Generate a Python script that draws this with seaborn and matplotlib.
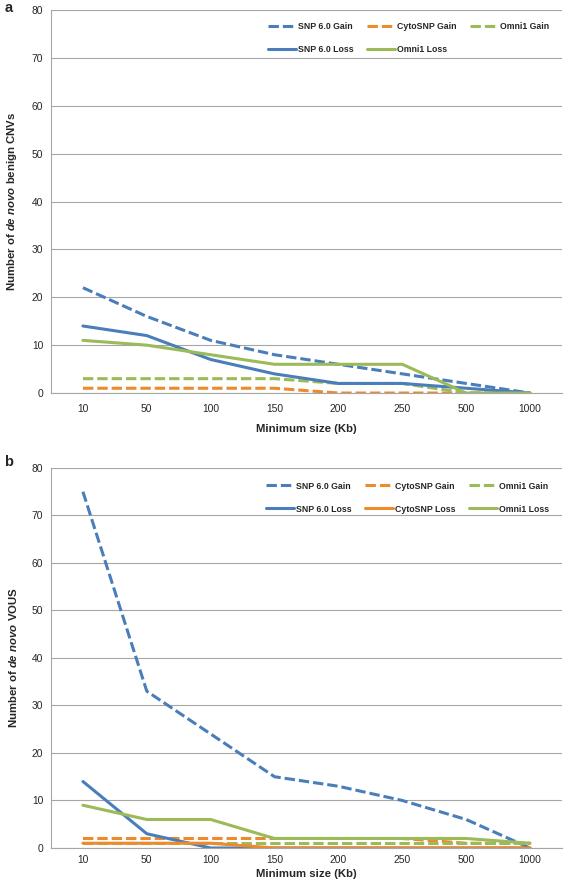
import matplotlib
matplotlib.use("Agg")
import matplotlib.pyplot as plt
import seaborn as sns
import pandas as pd
import numpy as np
from matplotlib.ticker import FixedLocator

sizes = ["10", "50", "100", "150", "200", "250", "500", "1000"]

# panel a: de novo benign CNVs
a_snp6_gain = [22, 16, 11, 8, 6, 4, 2, 0]
a_cyto_gain = [1, 1, 1, 1, 0, 0, 0, 0]
a_omni_gain = [3, 3, 3, 3, 2, 2, 0, 0]
a_snp6_loss = [14, 12, 7, 4, 2, 2, 1, 0]
a_omni_loss = [11, 10, 8, 6, 6, 6, 0, 0]

# panel b: de novo VOUS
b_snp6_gain = [75, 33, 24, 15, 13, 10, 6, 0]
b_cyto_gain = [2, 2, 2, 2, 2, 2, 1, 1]
b_omni_gain = [1, 1, 1, 1, 1, 1, 1, 1]
b_snp6_loss = [14, 3, 0, 0, 0, 0, 0, 0]
b_cyto_loss = [1, 1, 1, 0, 0, 0, 0, 0]
b_omni_loss = [9, 6, 6, 2, 2, 2, 2, 1]

BLUE = "#4A7EBB"
ORANGE = "#EE8A2C"
GREEN = "#9BBB59"
GRID = "#A6A6A6"
DASH = (0, (3.4, 1.3))

sns.set_theme(style="white")
plt.rcParams["font.family"] = ["Liberation Sans", "DejaVu Sans"]
plt.rcParams["mathtext.fontset"] = "custom"
plt.rcParams["mathtext.it"] = "Liberation Sans:italic:bold"
plt.rcParams["mathtext.rm"] = "Liberation Sans:bold"

fig = plt.figure(figsize=(5.66, 8.86), dpi=100)
ax_a = fig.add_axes([0.0901, 0.5564, 0.9028, 0.4323])
ax_b = fig.add_axes([0.0901, 0.0429, 0.9028, 0.4289])


def draw(ax, series):
    for label, vals, color, ls in series:
        df = pd.DataFrame({"size": sizes, "n": vals})
        sns.lineplot(data=df, x="size", y="n", ax=ax, color=color,
                     linewidth=2.2, linestyle=ls, label=label, sort=False)


def style(ax, ylabel, order, legend_y, tick_pad, xlab_pad):
    ax.set_ylim(0, 80)
    ax.set_xlim(-0.5, len(sizes) - 0.5)
    ax.set_yticks(np.arange(0, 81, 10))
    ax.yaxis.grid(True, color=GRID, linewidth=0.8)
    ax.set_axisbelow(True)
    for s in ["top", "right"]:
        ax.spines[s].set_visible(False)
    for s in ["left", "bottom"]:
        ax.spines[s].set_color(GRID)
        ax.spines[s].set_linewidth(0.8)
    ax.xaxis.set_minor_locator(FixedLocator(np.arange(-0.5, len(sizes), 1.0)))
    ax.tick_params(axis="x", which="major", length=0, labelsize=7.4, pad=tick_pad)
    ax.tick_params(axis="x", which="minor", length=3.5, color=GRID, width=0.8)
    ax.tick_params(axis="y", length=3.5, color=GRID, width=0.8, labelsize=7.4, pad=2)
    ax.set_xlabel("Minimum size (Kb)", fontsize=8.2, fontweight="bold", labelpad=xlab_pad)
    ax.set_ylabel(ylabel, fontsize=8.2, fontweight="bold", labelpad=9)
    handles, labels = ax.get_legend_handles_labels()
    lookup = dict(zip(labels, handles))
    ax.legend([lookup[k] for k in order], order, ncol=3, frameon=False,
              loc="upper right", bbox_to_anchor=(0.99, legend_y),
              prop={"size": 6.3, "weight": "bold"}, handlelength=3.2,
              handletextpad=0.25, columnspacing=1.5, labelspacing=1.6)


draw(ax_a, [
    ("SNP 6.0 Gain", a_snp6_gain, BLUE, DASH),
    ("CytoSNP Gain", a_cyto_gain, ORANGE, DASH),
    ("Omni1 Gain", a_omni_gain, GREEN, DASH),
    ("SNP 6.0 Loss", a_snp6_loss, BLUE, "-"),
    ("Omni1 Loss", a_omni_loss, GREEN, "-"),
])
style(ax_a, r"Number of $\mathit{de\ novo}$ benign CNVs",
      ["SNP 6.0 Gain", "SNP 6.0 Loss", "CytoSNP Gain", "Omni1 Loss", "Omni1 Gain"],
      0.99, 8, 7)

draw(ax_b, [
    ("SNP 6.0 Gain", b_snp6_gain, BLUE, DASH),
    ("CytoSNP Gain", b_cyto_gain, ORANGE, DASH),
    ("Omni1 Gain", b_omni_gain, GREEN, DASH),
    ("SNP 6.0 Loss", b_snp6_loss, BLUE, "-"),
    ("CytoSNP Loss", b_cyto_loss, ORANGE, "-"),
    ("Omni1 Loss", b_omni_loss, GREEN, "-"),
])
style(ax_b, r"Number of $\mathit{de\ novo}$ VOUS",
      ["SNP 6.0 Gain", "SNP 6.0 Loss", "CytoSNP Gain", "CytoSNP Loss",
       "Omni1 Gain", "Omni1 Loss"],
      0.985, 5, 3)

fig.text(0.008, 0.999, "a", fontsize=10.5, fontweight="bold", va="top", ha="left")
fig.text(0.008, 0.487, "b", fontsize=10.5, fontweight="bold", va="top", ha="left")

fig.savefig("out.png", dpi=100)
plt.close(fig)
